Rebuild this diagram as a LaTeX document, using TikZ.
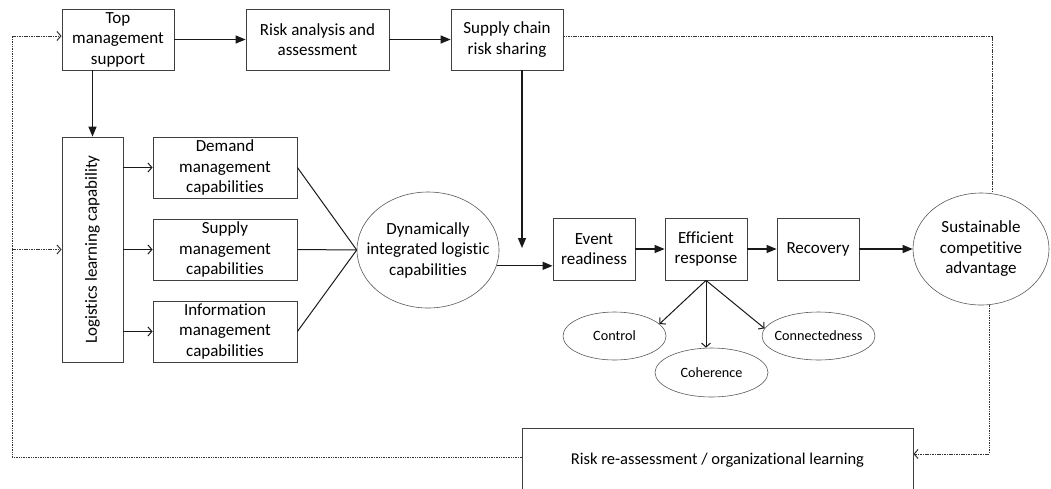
\documentclass[tikz,border=0pt]{standalone}
\usepackage{fontspec}
\setmainfont{Carlito}[Ligatures=NoCommon]
\usetikzlibrary{arrows.meta,shapes.geometric,calc}

\newcommand\bodyfs{\fontsize{17}{20.5}\selectfont}
\newcommand\ovalfs{\fontsize{14.2}{17}\selectfont}
\newcommand\notefs{\fontsize{16.5}{20}\selectfont}

\begin{document}
\begin{tikzpicture}[x=1pt,y=-1pt,
  box/.style={draw=black!75, line width=0.8pt, align=center, inner sep=0pt, font=\bodyfs},
  oval/.style={ellipse, draw=black!65, line width=0.6pt, inner sep=0pt},
  txt/.style={align=center, inner sep=0pt, font=\bodyfs},
  flow/.style={line width=1.2pt, draw=black!90, -{Triangle[length=10pt,width=8pt]}},
  splitarrow/.style={line width=1pt, draw=black!90, -{Straight Barb[length=4pt,width=9pt]}},
  tie/.style={line width=1pt, draw=black!90},
  fback/.style={line width=1pt, draw=black!80, dash pattern=on 1.5pt off 0.9pt},
  fbtip/.style={fback, -{Straight Barb[length=4pt,width=9pt]}}]

\useasboundingbox (0,0) rectangle (1051,488);
\clip (0,0) rectangle (1051,488);

% top row
\node[box, minimum width=112pt, minimum height=61pt] (top) at (118,39.5) {Top\\management\\support};
\node[box, minimum width=143pt, minimum height=61pt] (ra) at (317.5,39.5) {Risk analysis and\\assessment};
\node[box, minimum width=112pt, minimum height=61pt] (sc) at (507,39.5) {Supply chain\\risk sharing};

% learning capability and the three management capabilities
\node[box, minimum width=61pt, minimum height=225pt] (log) at (92.5,249.5) {};
\node[txt, rotate=90] (loglbl) at (log.center) {Logistics learning capability};
\node[box, minimum width=144pt, minimum height=61pt] (dm) at (225,167.5) {Demand\\management\\capabilities};
\node[box, minimum width=144pt, minimum height=61pt] (sm) at (225,249.5) {Supply\\management\\capabilities};
\node[box, minimum width=144pt, minimum height=61pt] (im) at (225,331.5) {Information\\management\\capabilities};

\node[oval, minimum width=142pt, minimum height=116pt] (dyn) at (428,250) {};
\node[txt] (dynlbl) at (dyn.center) {Dynamically\\integrated logistic\\capabilities};

% resilience chain
\node[box, minimum width=82pt, minimum height=62pt] (ev) at (594,249) {Event\\readiness};
\node[box, minimum width=82pt, minimum height=62pt] (eff) at (706,249) {Efficient\\response};
\node[box, minimum width=82pt, minimum height=62pt] (rec) at (818,249) {Recovery};
\node[oval, minimum width=136pt, minimum height=112pt] (sus) at (981,249) {};
\node[txt] (suslbl) at (sus.center) {Sustainable\\competitive\\advantage};

% response dimensions
\node[oval, minimum width=103pt, minimum height=48pt] (ctl) at (614.5,336) {};
\node[txt, font=\ovalfs] (ctllbl) at (ctl.center) {Control};
\node[oval, minimum width=113pt, minimum height=49pt] (coh) at (711.5,372.5) {};
\node[txt, font=\ovalfs] (cohlbl) at (coh.center) {Coherence};
\node[oval, minimum width=113pt, minimum height=48pt] (con) at (818.5,336) {};
\node[txt, font=\ovalfs] (conlbl) at (con.center) {Connectedness};

% feedback box
\node[box, minimum width=391pt, minimum height=64pt, font=\notefs] (rr) at (717.5,460) {Risk re-assessment / organizational learning};

% main connectors
\draw[flow] (top.east) -- (ra.west);
\draw[flow] (ra.east) -- (sc.west);
\draw[flow] (top.south -| log.north) -- (log.north);
\coordinate (drop) at (522,248);
\draw[flow] (sc.south -| drop) -- (drop);

\draw[splitarrow] (log.east |- dm.west) -- (dm.west);
\draw[splitarrow] (log.east |- sm.west) -- (sm.west);
\draw[splitarrow] (log.east |- im.west) -- (im.west);

\draw[tie] (dm.east) -- (dyn.west);
\draw[tie] (sm.east) -- (dyn.west);
\draw[tie] (im.east) -- (dyn.west);

\draw[flow] (dyn.-13) -- (dyn.-13 -| ev.west);
\draw[flow] (ev.east) -- (eff.west);
\draw[flow] (eff.east) -- (rec.west);
\draw[flow] (rec.east) -- (sus.west);

\draw[splitarrow] (eff.south) -- (ctl.15);
\draw[splitarrow] (eff.south) -- (eff.south |- coh.north);
\draw[splitarrow] (eff.south) -- (con.172);

% feedback loops
\coordinate (lx) at (12,0);
\coordinate (rxa) at (992,0);
\coordinate (rxb) at (989,0);
\draw[fback] ($(rr.west)+(0,-3)$) -| ($(lx |- top.west)+(0,-3.5)$);
\draw[fbtip] ($(lx |- top.west)+(0,-3.5)$) -- ($(top.west)+(0,-3.5)$);
\draw[fbtip] (lx |- log.west) -- (log.west);
\draw[fback] ($(sc.east)+(0,-3.5)$) -| (rxa |- sus.north);
\draw[fbtip] (rxb |- sus.south) |- ($(rr.east)+(0,-6)$);
\end{tikzpicture}
\end{document}
